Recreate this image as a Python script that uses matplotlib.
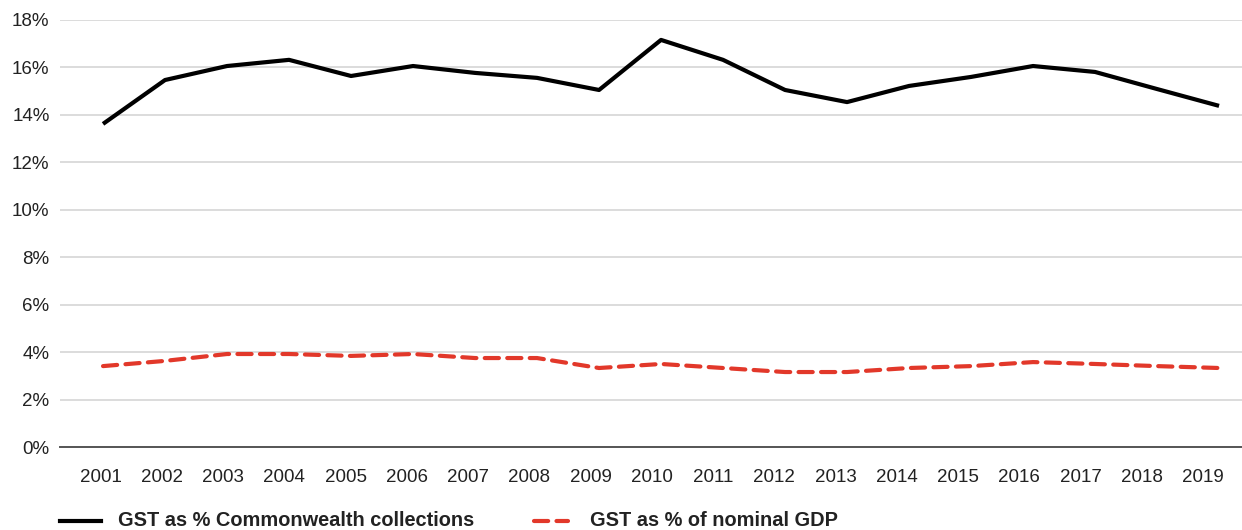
import matplotlib
matplotlib.use("Agg")
import matplotlib.pyplot as plt
from matplotlib.lines import Line2D
from matplotlib.ticker import FuncFormatter

plt.rcParams['font.family'] = ['Liberation Sans', 'DejaVu Sans']

years = ["2001", "2002", "2003", "2004", "2005", "2006", "2007", "2008", "2009", "2010",
         "2011", "2012", "2013", "2014", "2015", "2016", "2017", "2018", "2019"]
gst_commonwealth = [13.62, 15.47, 16.06, 16.32, 15.64, 16.06, 15.77, 15.56, 15.05, 17.16,
                    16.32, 15.05, 14.54, 15.22, 15.60, 16.06, 15.81, 15.09, 14.38]
gst_gdp = [3.41, 3.63, 3.92, 3.92, 3.84, 3.92, 3.75, 3.75, 3.33, 3.50,
           3.33, 3.16, 3.16, 3.33, 3.41, 3.58, 3.50, 3.41, 3.33]
y_ticks = [0, 2, 4, 6, 8, 10, 12, 14, 16, 18]

black = "#000000"
red = "#e2382a"
grid_grey = "#dcdcdc"
text_grey = "#222222"
dash_pattern = (3.4, 2.0)

W, H = 1242, 530
fig = plt.figure(figsize=(W / 100, H / 100), dpi=100)
ax = fig.add_axes([60 / W, 1 - 447 / H, 1 - 60 / W, (447 - 20) / H])

x = list(range(len(years)))
ax.plot(x, gst_commonwealth, color=black, lw=3.0, solid_joinstyle="round",
        solid_capstyle="butt", zorder=3)
ax.plot(x, gst_gdp, color=red, lw=3.0, dashes=dash_pattern, dash_capstyle="round",
        zorder=3)

ax.set_ylim(0, 18)
ax.set_xlim(-0.694, 18.37)
ax.set_yticks(y_ticks)
ax.yaxis.set_major_formatter(FuncFormatter(lambda v, _: f"{v:.0f}%"))
# year labels sit on a slightly tighter pitch than the plotted points
ax.set_xticks([i * 0.988 - 0.04 for i in x])
ax.set_xticklabels(years)

ax.grid(axis="y", color=grid_grey, lw=1.4, zorder=0)
ax.set_axisbelow(True)
for side in ["top", "right", "left"]:
    ax.spines[side].set_visible(False)
ax.spines["bottom"].set_color("#555555")
ax.spines["bottom"].set_linewidth(1.4)
ax.spines["bottom"].set_zorder(2)

ax.tick_params(axis="both", length=0, labelsize=13.5, colors=text_grey)
ax.tick_params(axis="x", pad=16)
ax.tick_params(axis="y", pad=7.5)

# Legend drawn along the bottom edge
ly = 1 - 521 / H
fig.add_artist(Line2D([60 / W, 101 / W], [ly, ly], color=black, lw=3.0,
                      transform=fig.transFigure))
fig.text(118 / W, ly, "GST as % Commonwealth collections", fontsize=14.4,
         fontweight="bold", color=text_grey, va="center", ha="left")
fig.add_artist(Line2D([534 / W, 568 / W], [ly, ly], color=red, lw=3.0,
                      dashes=dash_pattern, dash_capstyle="round",
                      transform=fig.transFigure))
fig.text(590 / W, ly, "GST as % of nominal GDP", fontsize=14.4,
         fontweight="bold", color=text_grey, va="center", ha="left")

fig.savefig("out.png", dpi=100, facecolor="white")
